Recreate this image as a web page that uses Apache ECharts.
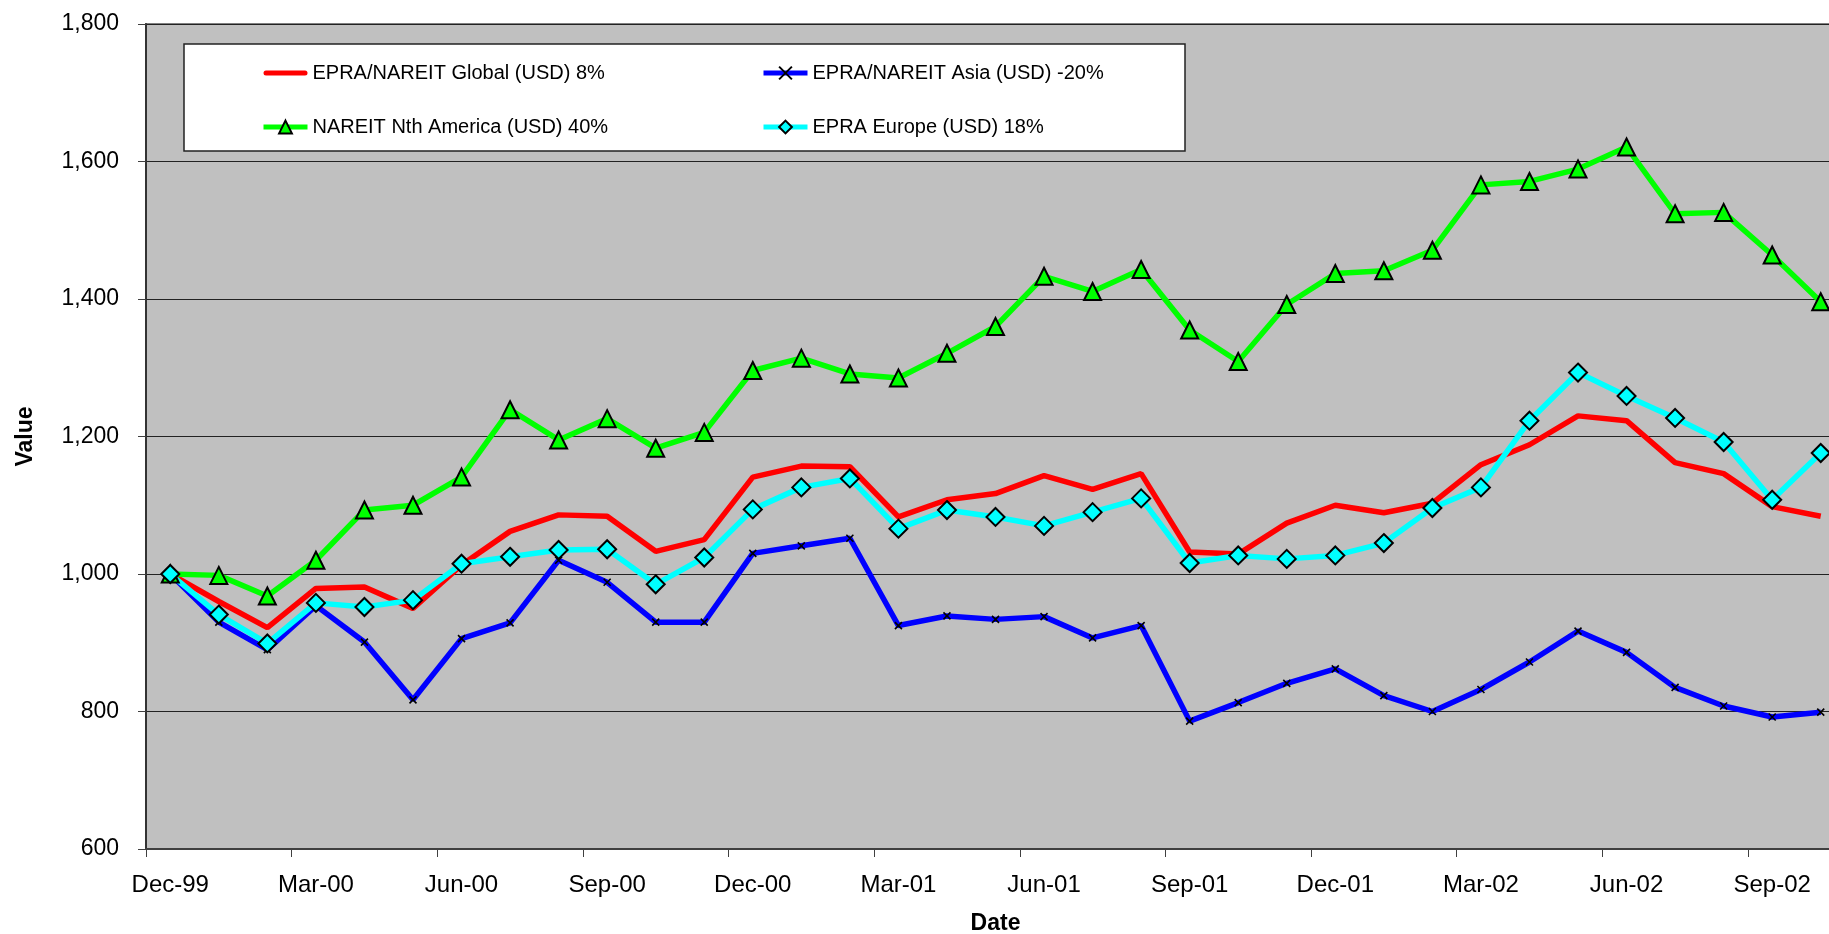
<!DOCTYPE html>
<html>
<head>
<meta charset="utf-8">
<script src="https://cdn.jsdelivr.net/npm/echarts@6/dist/echarts.min.js"></script>
<style>
html,body{margin:0;padding:0;background:#fff;overflow:hidden;}
#chart{width:1829px;height:934px;}
</style>
</head>
<body>
<div id="chart"></div>
<script>
const categories = ['Dec-99','Jan-00','Feb-00','Mar-00','Apr-00','May-00','Jun-00','Jul-00','Aug-00','Sep-00','Oct-00','Nov-00',
  'Dec-00','Jan-01','Feb-01','Mar-01','Apr-01','May-01','Jun-01','Jul-01','Aug-01','Sep-01','Oct-01','Nov-01',
  'Dec-01','Jan-02','Feb-02','Mar-02','Apr-02','May-02','Jun-02','Jul-02','Aug-02','Sep-02','Oct-02'];

const globalUSD = [1000,960,922,979,981,950,1013,1062,1086,1084,1033,1050,1141,1157,1156,1083,1108,1117,1143,1123,1146,1032,1029,1074,1100,1089,1103,1159,1188,1230,1223,1162,1146,1098,1084];
const asiaUSD = [1000,930,890,954,901,817,906,929,1020,988,930,930,1030,1041,1052,925,939,934,938,907,925,786,813,841,862,823,800,832,872,917,886,835,808,792,799];
const northAmericaUSD = [1000,998,968,1020,1093,1100,1141,1239,1195,1226,1183,1206,1296,1314,1291,1285,1321,1360,1433,1411,1443,1355,1309,1392,1437,1441,1471,1566,1571,1589,1621,1524,1526,1464,1396];
const europeUSD = [1000,941,899,958,952,962,1015,1025,1035,1036,985,1024,1094,1126,1139,1066,1093,1083,1070,1090,1110,1016,1027,1022,1027,1045,1096,1126,1223,1293,1259,1227,1192,1108,1176];

const seriesNames = ['EPRA/NAREIT Global (USD) 8%','EPRA/NAREIT Asia (USD) -20%','NAREIT Nth America (USD) 40%','EPRA Europe (USD) 18%'];
const yTicks = {min: 600, max: 1800, interval: 200};

const FONT = "'Liberation Sans', Arial, sans-serif";
const crossPath = 'path://M0,0L10,10M0,10L10,0';
const barIcon = 'path://M2.5,0H41.5A2.5,2.5,0,0,1,41.5,5H2.5A2.5,2.5,0,0,1,2.5,0Z';

const legendCommon = {
  orient: 'vertical', top: 63, itemGap: 34, itemWidth: 44, itemHeight: 16, padding: 0, z: 5,
  symbolKeepAspect: true,
  lineStyle: {width: 5},
  textStyle: {fontFamily: FONT, fontSize: 20, color: '#000'}
};

const chart = echarts.init(document.getElementById('chart'), null, {renderer: 'canvas'});
chart.setOption({
  animation: false,
  backgroundColor: '#ffffff',
  textStyle: {fontFamily: FONT},
  grid: {
    left: 146, top: 24, bottom: 85, right: -16,
    outerBoundsMode: 'none', containLabel: false,
    show: true, backgroundColor: '#C0C0C0', borderColor: '#808080', borderWidth: 2
  },
  graphic: [{
    type: 'rect', z: 3,
    shape: {x: 184, y: 44, width: 1001, height: 107},
    style: {fill: '#ffffff', stroke: '#222222', lineWidth: 1.5}
  }],
  legend: [
    Object.assign({}, legendCommon, {left: 261,
      data: [{name: seriesNames[0], icon: barIcon}, seriesNames[2]]}),
    Object.assign({}, legendCommon, {left: 761,
      data: [seriesNames[1], seriesNames[3]]})
  ],
  xAxis: {
    type: 'category', data: categories, boundaryGap: true,
    name: 'Date', nameLocation: 'middle', nameGap: 63,
    nameTextStyle: {fontFamily: FONT, fontSize: 23, fontWeight: 'bold', color: '#000'},
    axisLine: {show: true, lineStyle: {color: '#404040', width: 2}},
    axisTick: {show: true, interval: 2, length: 8, lineStyle: {color: '#404040', width: 1}},
    axisLabel: {interval: 2, margin: 24, fontFamily: FONT, fontSize: 24, color: '#000', hideOverlap: false},
    splitLine: {show: false}
  },
  yAxis: {
    type: 'value', min: yTicks.min, max: yTicks.max, interval: yTicks.interval,
    name: 'Value', nameLocation: 'middle', nameGap: 109, nameRotate: 90,
    nameTextStyle: {fontFamily: FONT, fontSize: 23, fontWeight: 'bold', color: '#000'},
    axisLine: {show: true, lineStyle: {color: '#333333', width: 2}},
    axisTick: {show: true, length: 8, lineStyle: {color: '#404040', width: 1}},
    axisLabel: {margin: 27, fontFamily: FONT, fontSize: 23, color: '#000',
      formatter: v => v.toLocaleString('en-US')},
    splitLine: {show: true, lineStyle: {color: '#222222', width: 1}}
  },
  series: [
    {name: seriesNames[0], type: 'line', data: globalUSD, symbol: 'none',
     color: '#FF0000', lineStyle: {color: '#FF0000', width: 5.5}, itemStyle: {color: '#FF0000'}},
    {name: seriesNames[1], type: 'line', data: asiaUSD, symbol: crossPath, symbolSize: 7, showAllSymbol: true,
     color: '#0000FF', lineStyle: {color: '#0000FF', width: 5.5},
     itemStyle: {color: 'rgba(0,0,0,0)', borderColor: '#000', borderWidth: 1.6}},
    {name: seriesNames[2], type: 'line', data: northAmericaUSD, symbol: 'triangle', symbolSize: 17, showAllSymbol: true,
     color: '#00FF00', lineStyle: {color: '#00FF00', width: 5.5},
     itemStyle: {color: '#00FF00', borderColor: '#000', borderWidth: 2}},
    {name: seriesNames[3], type: 'line', data: europeUSD, symbol: 'diamond', symbolSize: 18, showAllSymbol: true,
     color: '#00FFFF', lineStyle: {color: '#00FFFF', width: 5.5},
     itemStyle: {color: '#00FFFF', borderColor: '#000', borderWidth: 2}}
  ]
});
</script>
</body>
</html>
